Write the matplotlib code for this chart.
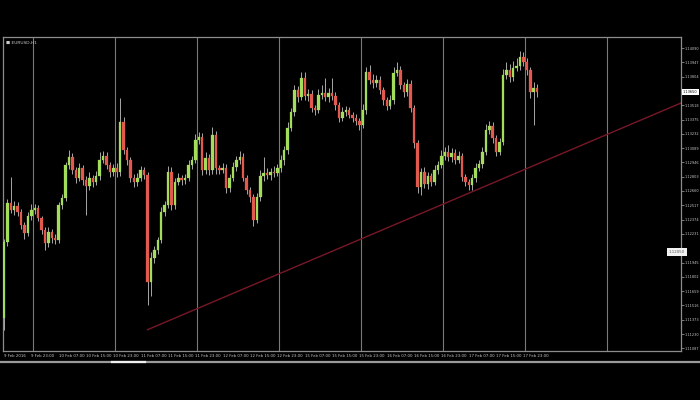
import numpy as np
import pandas as pd
import matplotlib
matplotlib.use("Agg")
import matplotlib.pyplot as plt

# EURUSD H1 candles
symbol_title = "EURUSD,H1"
first_open = 1.1139
closes = [
    1.1215, 1.1254, 1.1247, 1.1251, 1.1245, 1.1232, 1.1224, 1.1241, 1.1247, 1.1249,
    1.1239, 1.1227, 1.1214, 1.1225, 1.1219, 1.1217, 1.1252, 1.1259, 1.1292, 1.1300,
    1.1287, 1.1279, 1.1289, 1.1277, 1.1271, 1.1279, 1.1275, 1.1281, 1.1297, 1.1301,
    1.1292, 1.1285, 1.1289, 1.1285, 1.1335, 1.1307, 1.1297, 1.1279, 1.1275, 1.1279,
    1.1287, 1.1282, 1.1175, 1.1199, 1.1207, 1.1217, 1.1245, 1.1252, 1.1285, 1.1252,
    1.1275, 1.1279, 1.1277, 1.1279, 1.1292, 1.1297, 1.1317, 1.1320, 1.1287, 1.1299,
    1.1287, 1.1322, 1.1289, 1.1287, 1.1289, 1.1269, 1.1279, 1.1290, 1.1297, 1.1300,
    1.1279, 1.1267, 1.1260, 1.1237, 1.1260, 1.1281, 1.1284, 1.1282, 1.1285, 1.1284,
    1.1289, 1.1297, 1.1307, 1.1329, 1.1345, 1.1367, 1.1360, 1.1379, 1.1361, 1.1363,
    1.1349, 1.1347, 1.1362, 1.1364, 1.1360, 1.1364, 1.1361, 1.1352, 1.1339, 1.1345,
    1.1347, 1.1342, 1.1339, 1.1336, 1.1332, 1.1347, 1.1385, 1.1377, 1.1374, 1.1377,
    1.1367, 1.1357, 1.1351, 1.1357, 1.1384, 1.1387, 1.1372, 1.1365, 1.1373, 1.1349,
    1.1314, 1.1270, 1.1285, 1.1273, 1.1281, 1.1275, 1.1287, 1.1292, 1.1301, 1.1305,
    1.1300, 1.1304, 1.1297, 1.1301, 1.1280, 1.1275, 1.1272, 1.1279, 1.1289, 1.1293,
    1.1305, 1.1327, 1.1331, 1.1319, 1.1305, 1.1315, 1.1382, 1.1387, 1.1380, 1.1389,
    1.1391, 1.1400, 1.1395, 1.1387, 1.1365, 1.1369, 1.1365,
]
# shadow lengths above / below the body, in pips
wick_up_pips = [
    3, 4, 26, 5, 4, 3, 3, 4, 6, 4,
    3, 2, 3, 5, 3, 4, 3, 4, 3, 7,
    4, 3, 5, 3, 4, 6, 3, 5, 8, 5,
    4, 3, 4, 5, 24, 5, 3, 3, 4, 5,
    4, 3, 3, 6, 4, 3, 5, 4, 6, 5,
    4, 5, 3, 4, 5, 4, 6, 5, 4, 6,
    4, 8, 4, 3, 5, 4, 4, 5, 4, 6,
    4, 3, 3, 3, 4, 6, 16, 5, 4, 6,
    4, 5, 4, 6, 4, 5, 4, 6, 6, 5,
    4, 3, 6, 8, 15, 5, 15, 4, 3, 5,
    4, 3, 3, 4, 3, 6, 5, 7, 6, 5,
    4, 3, 3, 5, 6, 8, 4, 3, 5, 4,
    3, 3, 4, 5, 4, 3, 5, 4, 6, 5,
    7, 5, 4, 5, 3, 3, 3, 4, 5, 4,
    5, 6, 5, 4, 3, 4, 6, 8, 6, 7,
    8, 6, 5, 4, 3, 6, 4,
]
wick_dn_pips = [
    12, 4, 3, 5, 4, 4, 6, 3, 4, 4,
    3, 4, 7, 4, 5, 4, 3, 4, 3, 4,
    4, 5, 3, 5, 29, 4, 5, 3, 4, 3,
    4, 5, 4, 5, 4, 4, 5, 4, 5, 4,
    3, 4, 23, 14, 5, 4, 3, 4, 3, 5,
    4, 3, 5, 4, 3, 4, 3, 4, 5, 4,
    5, 4, 6, 4, 3, 5, 4, 3, 4, 4,
    3, 4, 5, 6, 3, 4, 5, 4, 5, 4,
    3, 4, 5, 4, 3, 4, 5, 3, 4, 5,
    4, 5, 3, 4, 4, 5, 4, 5, 4, 3,
    4, 3, 4, 4, 5, 3, 4, 4, 5, 4,
    4, 5, 4, 3, 4, 3, 4, 5, 4, 4,
    5, 6, 8, 4, 5, 4, 3, 4, 3, 4,
    4, 5, 4, 3, 4, 4, 5, 5, 4, 3,
    4, 3, 4, 5, 4, 3, 3, 4, 5, 4,
    3, 4, 4, 5, 6, 33, 5,
]
first_bar_time = "2016-02-09 15:00"
price_ticks = [1.14090, 1.13947, 1.13804, 1.13661, 1.13518, 1.13375, 1.13232,
               1.13089, 1.12946, 1.12803, 1.12660, 1.12517, 1.12374, 1.12231,
               1.12088, 1.11945, 1.11802, 1.11659, 1.11516, 1.11373, 1.11230,
               1.11087]
trend_start = (41.8, 1.1127)   # (bar, price)
trend_end = (198.1, 1.1354)
marker_price = 1.1205

# ---- derived series ----
pip = 0.0001
closes = np.array(closes)
opens = np.concatenate([[first_open], closes[:-1]])
body_hi = np.maximum(opens, closes)
body_lo = np.minimum(opens, closes)
highs = body_hi + np.array(wick_up_pips) * pip
lows = body_lo - np.array(wick_dn_pips) * pip
n = len(closes)
idx = np.arange(n)

# trading-hour timestamps (weekends skipped)
hours = pd.date_range(first_bar_time, periods=n * 2, freq="h")
hours = hours[hours.dayofweek < 5][:n]

BG = "#000000"
FG = "#c9c9c9"
GRID = "#7a7a7a"
BULL = "#a4dc5c"
BEAR = "#e2594f"
WICK = "#a8a8a8"

fig = plt.figure(figsize=(7, 4), dpi=100, facecolor=BG)
W, H = 700, 400
ax = fig.add_axes([3 / W, 1 - 351 / H, 678 / W, 314 / H], facecolor=BG)

ax.set_xlim(-0.29, 198.1)
ax.set_ylim(1.1106, 1.1420)

# day separators
for k in range(8):
    ax.axvline(8.5 + 24 * k, color=GRID, lw=0.8, zorder=1)

# trend line
ax.plot([trend_start[0], trend_end[0]], [trend_start[1], trend_end[1]],
        color="#781826", lw=1.0, zorder=2, solid_capstyle="butt")

# candles
up = closes >= opens
ax.vlines(idx, lows, highs, color=WICK, lw=0.7, zorder=3)
heights = np.maximum(body_hi - body_lo, 0.8 * pip)
ax.bar(idx[up], heights[up], bottom=body_lo[up], width=0.72,
       color=BULL, edgecolor=BULL, lw=0.2, zorder=4)
ax.bar(idx[~up], heights[~up], bottom=body_lo[~up], width=0.72,
       color=BEAR, edgecolor=BEAR, lw=0.2, zorder=4)

for s in ax.spines.values():
    s.set_color("#8c8c8c")
    s.set_linewidth(0.9)

# price scale on the right; labels under the price boxes are left blank
ax.yaxis.tick_right()
ax.set_yticks(price_ticks)
covered = [closes[-1], marker_price]
ax.set_yticklabels(["" if min(abs(p - c) for c in covered) < 0.0007 else f"{p:.5f}"
                    for p in price_ticks])
ax.tick_params(axis="y", colors="#8c8c8c", labelcolor=FG, labelsize=2.5,
               length=1.8, width=0.6, pad=0.8)

# time scale
label_bars = idx[::8]
labels = []
for j, b in enumerate(label_bars):
    t = hours[b]
    labels.append(t.strftime("%-d %b %Y") if j == 0 else t.strftime("%-d %b %H:%M"))
ax.set_xticks(label_bars)
ax.set_xticklabels(labels, ha="left")
ax.tick_params(axis="x", colors=BG, labelcolor=FG, labelsize=2.8,
               length=0, pad=2.5)

# symbol caption
ax.text(0.004, 0.988, "\u25a0 " + symbol_title, transform=ax.transAxes,
        color=FG, fontsize=3.2, va="top", ha="left")

# last price and marker labels on the price scale
ytr = ax.get_yaxis_transform()
ax.text(1.003, closes[-1], f"{closes[-1]:.5f}", transform=ytr, fontsize=2.5,
        color="#000000", va="center", ha="left", clip_on=False,
        bbox=dict(boxstyle="square,pad=0.35", fc="#ffffff", ec="none"))
ax.text(0.982, marker_price, f"{marker_price:.5f}", transform=ytr,
        fontsize=2.8, color="#555555", va="center", ha="left", clip_on=False,
        bbox=dict(boxstyle="square,pad=0.5", fc="#f2f2f2", ec="none"))

# scroll bar strip under the chart
fig.add_artist(plt.Line2D([0, 1], [1 - 362 / H, 1 - 362 / H],
                          transform=fig.transFigure, color="#9a9a9a", lw=1.6))
fig.add_artist(plt.Line2D([112 / W, 145 / W], [1 - 362 / H, 1 - 362 / H],
                          transform=fig.transFigure, color="#f0f0f0", lw=1.6))

fig.savefig("out.png", dpi=100, facecolor=BG)
